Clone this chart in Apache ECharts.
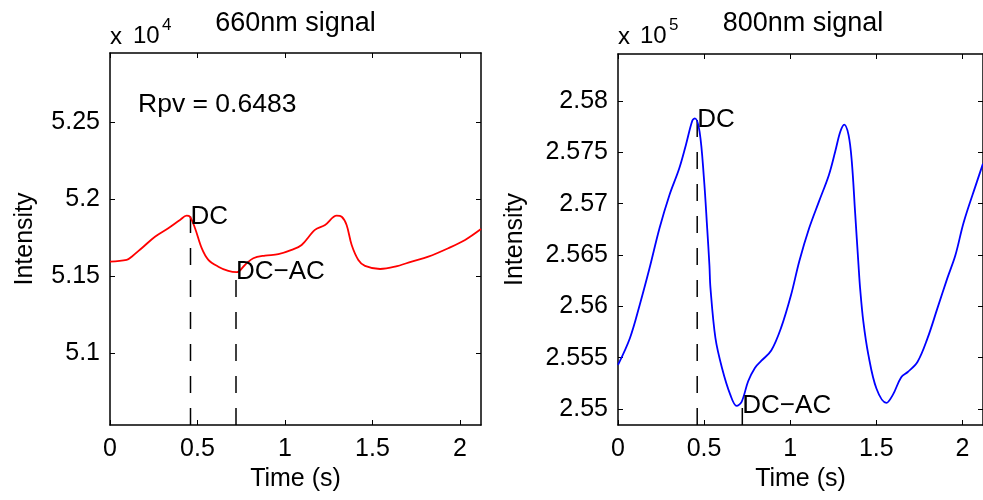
<!DOCTYPE html>
<html><head><meta charset="utf-8">
<script src="https://cdn.jsdelivr.net/npm/echarts@6/dist/echarts.min.js"></script>
<style>html,body{margin:0;padding:0;background:#fff}#c{width:983px;height:500px}</style>
</head><body><div id="c"></div>
<script>
// ---- data (intensity in units of 10^4 for 660nm, 10^5 for 800nm) ----
const time660 = [0, 0.095, 0.124, 0.181, 0.257, 0.333, 0.40, 0.438, 0.457, 0.486, 0.524, 0.562, 0.619, 0.676, 0.724, 0.771, 0.819, 0.886, 0.962, 1.038, 1.095, 1.171, 1.229, 1.295, 1.324, 1.352, 1.381, 1.419, 1.457, 1.543, 1.629, 1.724, 1.819, 1.933, 2.029, 2.12];
const signal660 = [5.1593, 5.1604, 5.1625, 5.1680, 5.1755, 5.1810, 5.1864, 5.1892, 5.1885, 5.1810, 5.1680, 5.1604, 5.1560, 5.1532, 5.1524, 5.1571, 5.1615, 5.1632, 5.1641, 5.1669, 5.1701, 5.1799, 5.1831, 5.1892, 5.1885, 5.1831, 5.1701, 5.1604, 5.1565, 5.1545, 5.1560, 5.1593, 5.1625, 5.1680, 5.1734, 5.1805];

const time800 = [0, 0.069, 0.126, 0.183, 0.241, 0.298, 0.355, 0.394, 0.432, 0.447, 0.474, 0.499, 0.518, 0.531, 0.537, 0.566, 0.604, 0.652, 0.689, 0.718, 0.756, 0.795, 0.833, 0.89, 0.947, 1.005, 1.053, 1.11, 1.167, 1.225, 1.262, 1.291, 1.314, 1.339, 1.358, 1.377, 1.397, 1.406, 1.425, 1.454, 1.501, 1.559, 1.597, 1.645, 1.683, 1.74, 1.798, 1.855, 1.912, 1.96, 2.008, 2.084, 2.12];
const signal800 = [2.55429, 2.55689, 2.56013, 2.5637, 2.5676, 2.5708, 2.5734, 2.5757, 2.5781, 2.5783, 2.5770, 2.5725, 2.5676, 2.5640, 2.5618, 2.5569, 2.5540, 2.5514, 2.5503, 2.5507, 2.5527, 2.5540, 2.5547, 2.5557, 2.5579, 2.5611, 2.5644, 2.5676, 2.5702, 2.5728, 2.5751, 2.5770, 2.5777, 2.5767, 2.5741, 2.5692, 2.5640, 2.5618, 2.5585, 2.5553, 2.5520, 2.5506, 2.5514, 2.5531, 2.5536, 2.5546, 2.5569, 2.5598, 2.5627, 2.5650, 2.5682, 2.5721, 2.5739];

// annotation markers: [time, value]
const dc660 = [0.46, 5.1887];
const dcac660 = [0.72, 5.1526];
const dc800 = [0.46, 2.5782];
const dcac800 = [0.722, 2.5503];
const rpvPos = [0.16, 5.2617];
const rpvText = 'Rpv = 0.6483';

// axes
const xRange = [0, 2.12];
const xTicks = [0, 0.5, 1, 1.5, 2];
const yRange660 = [5.053, 5.295];
const yTicks660 = [5.1, 5.15, 5.2, 5.25];
const yRange800 = [2.54844, 2.58458];
const yTicks800 = [2.55, 2.555, 2.56, 2.565, 2.57, 2.575, 2.58];

const FONT = '"Liberation Sans", Arial, sans-serif';
const zip = (a, b) => a.map((v, i) => [v, b[i]]);

function xAxes(grid) {
  const common = {
    type: 'value', gridIndex: grid, min: xRange[0], max: xRange[1],
    splitLine: { show: false },
    axisLine: { show: true, onZero: false, lineStyle: { color: '#000', width: 1.5 } },
    axisTick: { show: true, inside: true, length: 5, customValues: xTicks, lineStyle: { color: '#000', width: 1 } },
  };
  return [
    Object.assign({}, common, {
      position: 'bottom',
      axisLabel: { show: true, customValues: xTicks, margin: 12, fontSize: 25, color: '#000', fontFamily: FONT },
      name: 'Time (s)', nameLocation: 'middle', nameGap: 36,
      nameTextStyle: { fontSize: 25, color: '#000', fontFamily: FONT }
    }),
    Object.assign({}, common, { position: 'top', axisLabel: { show: false } })
  ];
}
function yAxes(grid, range, ticks, gap) {
  const common = {
    type: 'value', gridIndex: grid, min: range[0], max: range[1],
    splitLine: { show: false },
    axisLine: { show: true, onZero: false, lineStyle: { color: '#000', width: 1.5 } },
    axisTick: { show: true, inside: true, length: 5, customValues: ticks, lineStyle: { color: '#000', width: 1 } },
  };
  return [
    Object.assign({}, common, {
      position: 'left',
      axisLabel: { show: true, customValues: ticks, margin: 10, fontSize: 25, color: '#000', fontFamily: FONT,
        formatter: v => String(+v.toFixed(4)) },
      name: 'Intensity', nameLocation: 'middle', nameGap: gap,
      nameTextStyle: { fontSize: 25, color: '#000', fontFamily: FONT }
    }),
    Object.assign({}, common, { position: 'right', axisLabel: { show: false } })
  ];
}

function dashed(xi, yi, pos, ymin) {
  return {
    type: 'line', xAxisIndex: xi, yAxisIndex: yi, data: [[pos[0], ymin], [pos[0], pos[1]]],
    showSymbol: false, silent: true, z: 3,
    lineStyle: { color: '#000', width: 1.5, type: [17, 15] }
  };
}
function textMark(xi, yi, pos, text, size) {
  return {
    type: 'custom', xAxisIndex: xi, yAxisIndex: yi, data: [pos], silent: true, z: 5, clip: false,
    renderItem: (params, api) => {
      const p = api.coord([api.value(0), api.value(1)]);
      return { type: 'text', x: p[0], y: p[1],
        style: { text: text, fill: '#000', fontSize: size, fontFamily: FONT, align: 'left', verticalAlign: 'middle' } };
    }
  };
}

const option = {
  animation: false,
  backgroundColor: '#fff',
  textStyle: { fontFamily: FONT, color: '#000' },
  grid: [
    { left: 110, top: 53, width: 371, height: 372 },
    { left: 618, top: 54, width: 370, height: 371 }
  ],
  xAxis: [...xAxes(0), ...xAxes(1)],
  yAxis: [...yAxes(0, yRange660, yTicks660, 72), ...yAxes(1, yRange800, yTicks800, 90)],
  series: [
    { type: 'line', xAxisIndex: 0, yAxisIndex: 0, data: zip(time660, signal660), showSymbol: false,
      smooth: 0.35, lineStyle: { color: '#ff0000', width: 1.8 }, z: 4 },
    { type: 'line', xAxisIndex: 2, yAxisIndex: 2, data: zip(time800, signal800), showSymbol: false,
      smooth: 0.35, lineStyle: { color: '#0000ff', width: 1.8 }, z: 4 },
    dashed(0, 0, dc660, yRange660[0]),
    dashed(0, 0, dcac660, yRange660[0]),
    dashed(2, 2, dc800, yRange800[0]),
    dashed(2, 2, dcac800, yRange800[0]),
    textMark(0, 0, dc660, 'DC', 26),
    textMark(0, 0, dcac660, 'DC\u2212AC', 26),
    textMark(2, 2, dc800, 'DC', 26),
    textMark(2, 2, dcac800, 'DC\u2212AC', 26),
    textMark(0, 0, rpvPos, rpvText, 26.5)
  ],
  graphic: [
    { type: 'text', x: 295.5, y: 24, style: { text: '660nm signal', fontSize: 27, fontFamily: FONT, fill: '#000', align: 'center', verticalAlign: 'middle' } },
    { type: 'text', x: 803, y: 24, style: { text: '800nm signal', fontSize: 27, fontFamily: FONT, fill: '#000', align: 'center', verticalAlign: 'middle' } },
    { type: 'text', x: 110, y: 37, style: { text: 'x', fontSize: 24, fontFamily: FONT, fill: '#000', align: 'left', verticalAlign: 'middle' } },
    { type: 'text', x: 133, y: 36, style: { text: '10', fontSize: 24, fontFamily: FONT, fill: '#000', align: 'left', verticalAlign: 'middle' } },
    { type: 'text', x: 162, y: 25, style: { text: '4', fontSize: 17, fontFamily: FONT, fill: '#000', align: 'left', verticalAlign: 'middle' } },
    { type: 'text', x: 618, y: 37, style: { text: 'x', fontSize: 24, fontFamily: FONT, fill: '#000', align: 'left', verticalAlign: 'middle' } },
    { type: 'text', x: 640, y: 36, style: { text: '10', fontSize: 24, fontFamily: FONT, fill: '#000', align: 'left', verticalAlign: 'middle' } },
    { type: 'text', x: 669, y: 25, style: { text: '5', fontSize: 17, fontFamily: FONT, fill: '#000', align: 'left', verticalAlign: 'middle' } }
  ]
};
const chart = echarts.init(document.getElementById('c'), null, { renderer: 'canvas' });
chart.setOption(option);
</script>
</body></html>
